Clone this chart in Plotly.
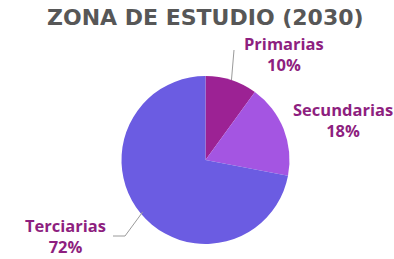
import math
import plotly.graph_objects as go

labels = ["Primarias", "Secundarias", "Terciarias"]
values = [10, 18, 72]
colors = ["#9C2294", "#A455E2", "#6B5CE2"]
title = "ZONA DE ESTUDIO (2030)"

W, H = 394, 259
cx, cy, r = 205.5, 160.0, 84.0  # pie centre / radius in px (layout)

def px(x):
    return x / W

def py(y):
    return 1 - y / H

fig = go.Figure(go.Pie(
    labels=labels, values=values, sort=False, direction="clockwise", rotation=0,
    marker=dict(colors=colors, line=dict(width=0)),
    textinfo="none", hoverinfo="label+percent", showlegend=False,
    domain=dict(x=[px(cx - r), px(cx + r)], y=[py(cy + r), py(cy - r)]),
))

total = sum(values)
mids = []
acc = 0
for v in values:
    mids.append((acc + v / 2) / total * 2 * math.pi)
    acc += v

def edge(a, k=1.0):
    return cx + k * r * math.sin(a), cy - k * r * math.cos(a)

# label block centres (style), px
label_pos = [(284, 54), (343, 120), (65, 236)]
font_lbl = dict(family="'Open Sans', sans-serif", size=16.5, color="#8E1F80")

annotations = []
for lab, v, (lx, ly) in zip(labels, values, label_pos):
    pct = round(v / total * 100)
    annotations.append(dict(
        x=px(lx), y=py(ly), xref="paper", yref="paper", showarrow=False,
        text=f"<b>{lab}</b><br><b>{pct}%</b>", font=font_lbl, align="center",
        xanchor="center", yanchor="middle", borderpad=0,
    ))

annotations.append(dict(
    x=px(205.5), y=py(18), xref="paper", yref="paper", showarrow=False,
    text=f"<b>{title}</b>", font=dict(family="'DejaVu Sans', sans-serif", size=22, color="#575757"),
    xanchor="center", yanchor="middle",
))

shapes = []
# leader for Primarias
ex, ey = edge(mids[0], 1.0)
shapes.append(dict(type="line", xref="paper", yref="paper",
                   x0=px(ex), y0=py(ey), x1=px(234), y1=py(50),
                   line=dict(color="#9A9A9A", width=1)))
# leader for Terciarias (elbow)
ex, ey = edge(mids[2], 0.97)
shapes.append(dict(type="path", xref="paper", yref="paper",
                   path=f"M {px(ex)},{py(ey)} L {px(125)},{py(236)} L {px(113)},{py(236)}",
                   line=dict(color="#9A9A9A", width=1)))

fig.update_layout(
    width=W, height=H, margin=dict(l=0, r=0, t=0, b=0),
    paper_bgcolor="white", plot_bgcolor="white",
    annotations=annotations, shapes=shapes,
)
fig.write_html("out.html", config={"displayModeBar": False},
               post_script="document.body.style.margin='0';")
